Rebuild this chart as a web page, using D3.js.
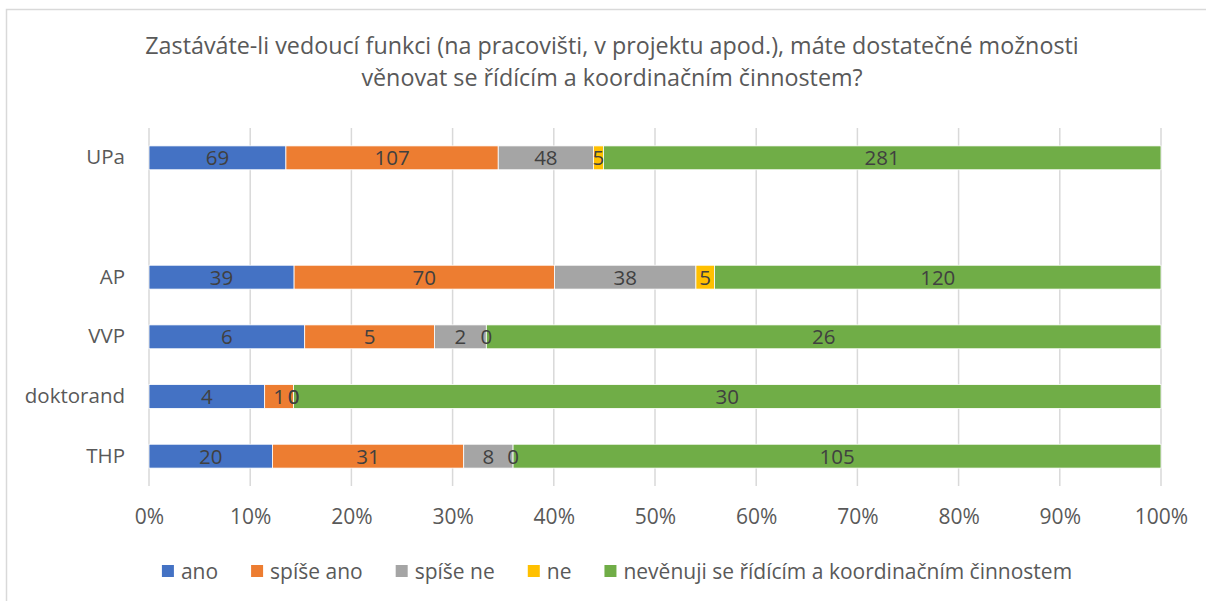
<!DOCTYPE html>
<html lang="cs">
<head>
<meta charset="UTF-8">
<title>Řídící činnosti</title>
<script src="https://cdn.jsdelivr.net/npm/d3@7"></script>
<style>
  body { margin: 0; background: #fff; }
  svg text { font-family: "Open Sans", sans-serif; }
</style>
</head>
<body>
<svg width="1206" height="601" id="chart"></svg>
<script>
// categories top to bottom ("" is the empty row between UPa and AP)
var categories = ["UPa", "", "AP", "VVP", "doktorand", "THP"];
var seriesNames = ["ano", "spíše ano", "spíše ne", "ne", "nevěnuji se řídícím a koordinačním činnostem"];
var colors = ["#4472c4", "#ed7d31", "#a5a5a5", "#ffc000", "#70ad47"];

var ano       = [69, null, 39, 6, 4, 20];
var spiseAno  = [107, null, 70, 5, 1, 31];
var spiseNe   = [48, null, 38, 2, 0, 8];
var ne        = [5, null, 5, 0, 0, 0];
var nevenuji  = [281, null, 120, 26, 30, 105];
var tickLabels = ["0%", "10%", "20%", "30%", "40%", "50%", "60%", "70%", "80%", "90%", "100%"];

var titleLines = ["Zastáváte-li vedoucí funkci (na pracovišti, v projektu apod.), máte dostatečné možnosti",
                  "věnovat se řídícím a koordinačním činnostem?"];

var series = [ano, spiseAno, spiseNe, ne, nevenuji];
var font = "'Open Sans', sans-serif";

var svg = d3.select("#chart");

// chart border
svg.append("rect")
    .attr("x", 6.5).attr("y", 9.5)
    .attr("width", 1250).attr("height", 650)
    .attr("fill", "none").attr("stroke", "#d9d9d9").attr("stroke-width", 1.5);

// title
svg.append("g").selectAll("text")
    .data(titleLines)
    .enter().append("text")
    .attr("x", 612)
    .attr("y", function (d, i) { return 54 + i * 32; })
    .attr("text-anchor", "middle")
    .attr("font-size", "23.3px")
    .attr("fill", "#595959")
    .text(function (d) { return d; });

var x = d3.scaleLinear().domain([0, 1]).range([149, 1161]);
var y = d3.scaleBand().domain(d3.range(categories.length)).range([128, 486])
    .paddingInner(0.6).paddingOuter(0.3);

// gridlines
svg.append("g").selectAll("line")
    .data(d3.range(0, 1.0001, 0.1))
    .enter().append("line")
    .attr("x1", function (d) { return x(d); })
    .attr("x2", function (d) { return x(d); })
    .attr("y1", 128).attr("y2", 486)
    .attr("stroke", "#d9d9d9").attr("stroke-width", 1.5);

// x axis labels
var xAxis = svg.append("g")
    .attr("transform", "translate(0,486)")
    .call(d3.axisBottom(x)
        .tickValues(d3.range(0, 1.0001, 0.1))
        .tickFormat(function (d, i) { return tickLabels[i]; })
        .tickSize(0).tickPadding(23));
xAxis.select(".domain").remove();
xAxis.selectAll("text").attr("font-size", "21px").attr("fill", "#595959")
    .attr("font-family", font);

// y axis labels
var yAxis = svg.append("g")
    .attr("transform", "translate(149,0)")
    .call(d3.axisLeft(y).tickFormat(function (i) { return categories[i]; })
        .tickSize(0).tickPadding(24));
yAxis.select(".domain").remove();
yAxis.selectAll("text").attr("font-size", "20.5px").attr("fill", "#595959")
    .attr("font-family", font);

// stacked 100% segments
var rows = [];
categories.forEach(function (c, i) {
    if (ano[i] === null) return;
    var total = d3.sum(series, function (s) { return s[i]; });
    var acc = 0;
    series.forEach(function (s, k) {
        rows.push({ row: i, k: k, v: s[i], x0: acc / total, x1: (acc + s[i]) / total });
        acc += s[i];
    });
});

var seg = svg.append("g");
seg.selectAll("rect")
    .data(rows)
    .enter().append("rect")
    .attr("x", function (d) { return x(d.x0); })
    .attr("y", function (d) { return y(d.row); })
    .attr("width", function (d) { return x(d.x1) - x(d.x0); })
    .attr("height", y.bandwidth())
    .attr("fill", function (d) { return colors[d.k]; })
    .attr("stroke", "#fff").attr("stroke-width", 0.8);

seg.selectAll("text")
    .data(rows)
    .enter().append("text")
    .attr("x", function (d) { return x((d.x0 + d.x1) / 2); })
    .attr("y", function (d) { return y(d.row) + y.bandwidth() / 2; })
    .attr("dy", "0.36em")
    .attr("text-anchor", "middle")
    .attr("font-size", "20.5px")
    .attr("fill", "#404040")
    .text(function (d) { return d.v; });

// legend
var legend = svg.append("g");
var items = legend.selectAll("g")
    .data(seriesNames)
    .enter().append("g");
items.append("rect")
    .attr("width", 12).attr("height", 12)
    .attr("y", -6)
    .attr("fill", function (d, i) { return colors[i]; });
items.append("text")
    .attr("x", 19)
    .attr("dy", "0.36em")
    .attr("font-size", "21px")
    .attr("fill", "#595959")
    .text(function (d) { return d; });

var widths = [];
items.each(function () { widths.push(this.getBBox().width); });
var gap = 33;
var totalW = d3.sum(widths) + gap * (widths.length - 1);
var lx = 617 - totalW / 2;
items.attr("transform", function (d, i) {
    var t = "translate(" + lx + ",571)";
    lx += widths[i] + gap;
    return t;
});
</script>
</body>
</html>
